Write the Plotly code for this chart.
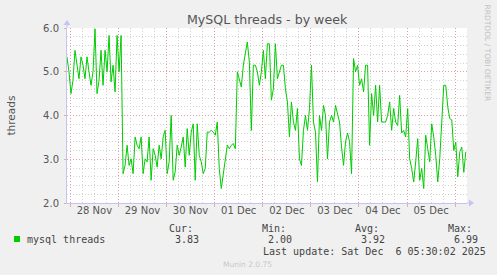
import pandas as pd
import plotly.graph_objects as go

# ---- data ----
start_time = "2025-11-27 22:20"
threads = [
    5.34, 5.0, 4.5, 4.8, 5.49, 5.2, 4.84, 5.34, 5.15, 4.84,
    5.34, 5.0, 4.69, 5.0, 5.98, 4.5, 4.8, 5.49, 4.69, 5.49,
    5.0, 5.83, 4.77, 5.15, 4.54, 5.83, 5.0, 5.83, 2.67, 2.86,
    3.32, 2.86, 3.01, 2.67, 3.51, 3.32, 3.24, 3.51, 2.67, 3.01,
    2.94, 3.51, 2.52, 3.24, 3.09, 2.82, 3.32, 3.01, 3.51, 3.66,
    2.67, 2.94, 4.0, 2.52, 2.71, 3.32, 3.09, 3.28, 3.51, 2.82,
    3.70, 3.09, 3.62, 3.81, 2.52, 3.81, 3.09, 2.94, 2.67, 2.79,
    3.62, 3.62, 3.66, 3.62, 3.55, 3.85, 2.79, 2.33, 2.67, 3.01,
    3.32, 3.24, 3.32, 3.36, 3.24, 5.0, 4.84, 4.65, 5.15, 5.41,
    5.68, 5.22, 3.66, 5.15, 5.15, 5.0, 4.69, 5.0, 5.49, 4.84,
    5.64, 5.64, 4.35, 4.61, 5.64, 4.84, 5.03, 5.15, 5.15, 4.61,
    4.31, 3.51, 4.31, 3.85, 3.66, 4.16, 3.01, 2.86, 3.66, 4.0,
    3.66, 4.16, 5.15, 3.85, 3.62, 2.48, 4.0, 3.66, 4.23, 4.0,
    3.01, 3.85, 4.0, 3.85, 4.23, 4.0, 3.85, 3.28, 2.86, 3.40,
    3.60, 3.40, 2.67, 5.30, 5.0, 5.15, 4.69, 4.84, 4.54, 5.15,
    5.15, 3.32, 4.5, 4.0, 4.69, 3.85, 4.69, 3.85, 3.85, 3.85,
    4.0, 4.31, 3.66, 4.16, 3.85, 3.77, 4.46, 3.6, 3.66, 3.51,
    4.16, 3.01, 2.79, 2.48, 2.94, 3.47, 2.52, 2.79, 2.33, 3.55,
    3.24, 2.94, 3.81, 3.51, 3.09, 2.48, 3.01, 3.85, 4.69, 4.69,
    4.2, 3.93, 3.9, 3.2, 3.39, 2.6, 3.17, 3.28, 2.7, 3.17,
]
times = pd.date_range(start_time, periods=len(threads), freq="1h")

day_ticks = ["2025-11-28", "2025-11-29", "2025-11-30", "2025-12-01", "2025-12-02",
             "2025-12-03", "2025-12-04", "2025-12-05", "2025-12-06"]
label_ticks = ["2025-11-28 12:00", "2025-11-29 12:00", "2025-11-30 12:00", "2025-12-01 12:00",
               "2025-12-02 12:00", "2025-12-03 12:00", "2025-12-04 12:00", "2025-12-05 12:00"]
label_text = ["28 Nov", "29 Nov", "30 Nov", "01 Dec", "02 Dec", "03 Dec", "04 Dec", "05 Dec"]
y_ticks = [2, 3, 4, 5, 6]
y_text = ["2.0", "3.0", "4.0", "5.0", "6.0"]
x_range = ["2025-11-27 22:21", "2025-12-06 05:56"]

legend_name = "mysql threads"
stats_labels = ["Cur:", "Min:", "Avg:", "Max:"]
stats_values = ["3.83", "2.00", "3.92", "6.99"]
last_update = "Last update: Sat Dec \u00a06 05:30:02 2025"

# ---- style ----
W, H = 497, 275
L, R, T, B = 67, 30, 28, 72
PW, PH = W - L - R, H - T - B
MAJOR = "rgba(228,140,140,0.7)"
MINOR = "#d2d2d2"
AXIS = "#c4c4f4"
TXT = "#555555"
GREEN = "#00cc00"
DOT = "1px,2px"

def px(x):
    return (x - L) / PW

def py(y):
    return (T + PH - y) / PH

fig = go.Figure()
fig.add_trace(go.Scatter(x=times, y=threads, mode="lines",
                         line=dict(color=GREEN, width=1), showlegend=False,
                         hoverinfo="skip"))
fig.add_trace(go.Scatter(x=[times[0]], y=[None], xaxis="x2", mode="lines",
                         showlegend=False, hoverinfo="skip"))

fig.update_layout(
    width=W, height=H,
    margin=dict(l=L, r=R, t=T, b=B, pad=0),
    paper_bgcolor="#f0f0f0", plot_bgcolor="#ffffff",
    font=dict(family="DejaVu Sans", size=10, color=TXT),
    xaxis=dict(type="date", range=x_range, tickmode="array", tickvals=day_ticks,
               ticktext=[""] * len(day_ticks), showgrid=True, gridcolor=MAJOR,
               griddash=DOT, gridwidth=1, ticks="outside", ticklen=3,
               tickcolor=MAJOR, showline=True, linecolor=AXIS, linewidth=1,
               zeroline=False,
               minor=dict(dtick=6 * 3600 * 1000, tick0="2025-11-28", showgrid=True,
                          gridcolor=MINOR, griddash=DOT, gridwidth=1)),
    xaxis2=dict(type="date", range=x_range, overlaying="x", anchor="y", side="bottom",
                tickmode="array", tickvals=label_ticks, ticktext=label_text,
                showgrid=False, ticks="", showline=False, zeroline=False,
                tickfont=dict(size=10, color=TXT)),
    yaxis=dict(range=[2, 6], tickmode="array", tickvals=y_ticks, ticktext=y_text,
               showgrid=True, gridcolor=MAJOR, griddash=DOT, gridwidth=1,
               ticks="outside", ticklen=2, tickcolor=MAJOR, ticklabelstandoff=3,
               showline=True, linecolor=AXIS, linewidth=1, zeroline=False,
               tickfont=dict(size=10, color=TXT),
               minor=dict(dtick=0.2, tick0=2, showgrid=True, gridcolor=MINOR,
                          griddash=DOT, gridwidth=1)),
    showlegend=False,
)

ann = []
ann.append(dict(text="MySQL threads - by week", x=0.5, xref="paper", y=py(20), yref="paper",
                xanchor="center", yanchor="middle", showarrow=False,
                font=dict(size=12.6, color=TXT)))
ann.append(dict(text="threads", x=px(10), y=0.5, xref="paper", yref="paper",
                textangle=-90, showarrow=False, xanchor="center", yanchor="middle",
                font=dict(size=10.5, color=TXT)))
ann.append(dict(text="RRDTOOL / TOBI OETIKER", x=px(487.5), y=py(53), xref="paper", yref="paper",
                textangle=90, showarrow=False, xanchor="center", yanchor="middle",
                font=dict(size=7.5, color="#c0c0c0")))
mono = "DejaVu Sans Mono"
ann.append(dict(text=legend_name, x=px(25), y=py(239), xref="paper", yref="paper",
                xanchor="left", yanchor="middle", showarrow=False,
                font=dict(family=mono, size=10, color="#444")))
for lab, val, lx in zip(stats_labels, stats_values, [167, 260, 353, 446]):
    ann.append(dict(text=lab, x=px(lx), y=py(228), xref="paper", yref="paper",
                    xanchor="left", yanchor="middle", showarrow=False,
                    font=dict(family=mono, size=10, color="#444")))
    ann.append(dict(text=val, x=px(lx + 6), y=py(239), xref="paper", yref="paper",
                    xanchor="left", yanchor="middle", showarrow=False,
                    font=dict(family=mono, size=10, color="#444")))
ann.append(dict(text=last_update, x=px(261), y=py(251.5), xref="paper", yref="paper",
                xanchor="left", yanchor="middle", showarrow=False,
                font=dict(family=mono, size=10, color="#444")))
ann.append(dict(text="Munin 2.0.75", x=px(247.5), y=py(264), xref="paper", yref="paper",
                xanchor="center", yanchor="middle", showarrow=False,
                font=dict(size=7.5, color="#c8c8c8")))
fig.update_layout(annotations=ann)

shapes = []
# legend swatch
shapes.append(dict(type="rect", xref="paper", yref="paper", x0=px(14), x1=px(20),
                   y0=py(242), y1=py(236), fillcolor=GREEN, line=dict(width=0)))
# axis extensions and arrows
shapes.append(dict(type="line", xref="paper", yref="paper", x0=0, x1=0, y0=1, y1=py(24),
                   line=dict(color=AXIS, width=1)))
shapes.append(dict(type="path", xref="paper", yref="paper",
                   path=f"M {px(63.5)} {py(25)} L {px(70.5)} {py(25)} L {px(67)} {py(20)} Z",
                   fillcolor=AXIS, line=dict(width=0)))
shapes.append(dict(type="line", xref="paper", yref="paper", x0=1, x1=px(470), y0=0, y1=0,
                   line=dict(color=AXIS, width=1)))
shapes.append(dict(type="path", xref="paper", yref="paper",
                   path=f"M {px(469)} {py(199.5)} L {px(469)} {py(206.5)} L {px(474)} {py(203)} Z",
                   fillcolor=AXIS, line=dict(width=0)))
fig.update_layout(shapes=shapes)

fig.write_html("out.html")
